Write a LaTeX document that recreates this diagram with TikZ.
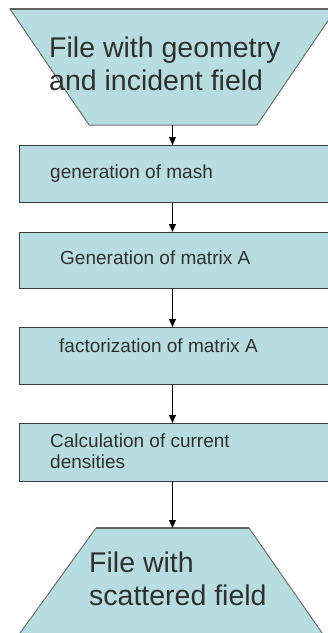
\documentclass[tikz,border=0pt]{standalone}
\usepackage{fontspec}
\setmainfont{Liberation Sans}
\usetikzlibrary{arrows.meta}
\definecolor{fillc}{HTML}{B8DDE0}
\definecolor{edgec}{HTML}{3C3C3C}
\definecolor{trapedge}{HTML}{707070}
\definecolor{txtc}{HTML}{303030}
\begin{document}
\begin{tikzpicture}[x=1pt,y=-1pt,
 stepbox/.style={draw=edgec,line width=1.3pt,fill=fillc,minimum width=330pt,inner sep=0,anchor=north west},
 boxtext/.style={anchor=base west,inner sep=0,text=txtc,font=\fontsize{19}{21}\selectfont,align=left},
 bigtext/.style={anchor=base west,inner sep=0,text=txtc,font=\fontsize{28.5}{32.5}\selectfont,align=left},
 flow/.style={draw=black,line width=1pt,-{Triangle[length=8pt,width=7pt]}},
 trap/.style={fill=fillc,draw=trapedge,line width=1pt,line join=miter}]
\useasboundingbox (0,0) rectangle (328,633);
\clip (0,0) rectangle (328,633);
% input trapezoid
\path[trap] (10,9) -- (336,9) -- (257,125) -- (89,125) -- cycle;
\draw[draw=edgec!80,line width=1.3pt] (10,9) -- (336,9);
\coordinate (inb) at (172.5,125);
\node[bigtext] (intext) at (49,90) {File with geometry\\and incident field};
% process boxes
\node[stepbox,minimum height=57pt] (b1) at (19,145) {};
\node[boxtext] (t1) at (50,178) {generation of mash};
\node[stepbox,minimum height=56pt] (b2) at (19,232) {};
\node[boxtext] (t2) at (60,264) {Generation of matrix A};
\node[stepbox,minimum height=57pt] (b3) at (19,327) {};
\node[boxtext] (t3) at (59,352) {factorization of matrix A};
\node[stepbox,minimum height=58pt] (b4) at (19,423) {};
\node[boxtext] (t4) at (50,468) {Calculation of current\\densities};
% output trapezoid
\path[trap] (96,528) -- (249,528) -- (327,640) -- (15,640) -- cycle;
\draw[draw=edgec!80,line width=1.3pt] (96,528) -- (249,528);
\coordinate (outt) at (172.5,528);
\node[bigtext] (outtext) at (89,605) {File with\\scattered field};
% connectors
\draw[flow] (inb) -- (b1.north -| inb);
\draw[flow] (b1.south -| inb) -- (b2.north -| inb);
\draw[flow] (b2.south -| inb) -- (b3.north -| inb);
\draw[flow] (b3.south -| inb) -- (b4.north -| inb);
\draw[flow] (b4.south -| inb) -- (outt);
\end{tikzpicture}
\end{document}
